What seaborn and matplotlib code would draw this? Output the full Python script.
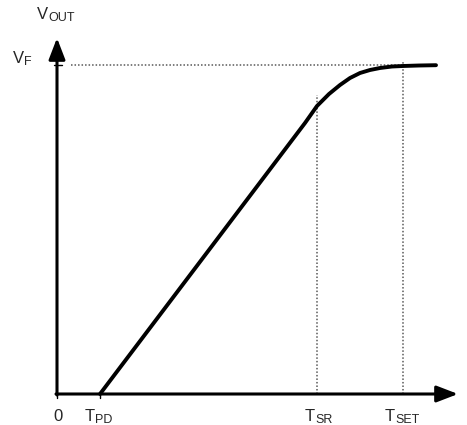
import matplotlib
matplotlib.use("Agg")
import matplotlib.pyplot as plt
import seaborn as sns
import pandas as pd

# step response (arbitrary units)
t_vals = [43, 248, 260, 272, 283, 293, 303, 313, 323, 335, 346, 362, 379]
v_vals = [0, 271, 288, 300, 309, 316, 321, 324, 326, 327.5, 328, 328.5, 328.8]

T_PD = 43
T_SR = 260
T_SET = 346
V_F = 329

# x labels: main letter, subscript, left edge of main letter
x_main = ["0", "T", "T", "T"]
x_sub = ["", "PD", "SR", "SET"]
x_left = [-4, 28, 248, 328]

sns.set_style("white")
plt.rcParams["font.family"] = ["Liberation Sans", "DejaVu Sans"]

df = pd.DataFrame({"t": t_vals, "v": v_vals})

fig = plt.figure(figsize=(4.67, 4.25), dpi=100)
ax = fig.add_axes([0, 0, 1, 1])


def sub_text(x, y, main, sub, gap):
    # main letter plus a slightly lowered smaller subscript
    ax.text(x, y, main, ha="left", va="baseline", fontsize=12)
    if sub:
        ax.text(x + gap, y - 2, sub, ha="left", va="baseline", fontsize=9)


# dotted guide lines
ax.plot([14, T_SET - 1], [V_F, V_F], color="0.35", lw=1.1, ls=(0, (1, 1.3)))
ax.plot([T_SR, T_SR], [0, 299], color="0.35", lw=1.1, ls=(0, (1, 1.3)))
ax.plot([T_SET, T_SET], [0, 333], color="0.35", lw=1.1, ls=(0, (1, 1.3)))

# the curve
sns.lineplot(data=df, x="t", y="v", ax=ax, color="black", lw=2.8, sort=False)

# axes with arrows
arrow = dict(arrowstyle="-|>,head_length=0.65,head_width=0.25", lw=2.2,
             color="black", mutation_scale=20, shrinkA=0, shrinkB=0)
ax.annotate("", xy=(0, 356), xytext=(0, -1), arrowprops=arrow)
ax.annotate("", xy=(401, 0), xytext=(-1, 0), arrowprops=arrow)

# small ticks
ax.plot([-3, 5], [V_F, V_F], color="black", lw=1.0)
ax.plot([0, 0], [0, -4], color="black", lw=1.0)
ax.plot([T_PD, T_PD], [0, -4], color="black", lw=1.0)

for m, s, x in zip(x_main, x_sub, x_left):
    sub_text(x, -27, m, s, 10)

sub_text(-20, 375, "V", "OUT", 11)
sub_text(-44, 331, "V", "F", 11)

ax.set_xlim(-57, 410)
ax.set_ylim(-31, 394)
ax.axis("off")

fig.savefig("out.png", dpi=100)
